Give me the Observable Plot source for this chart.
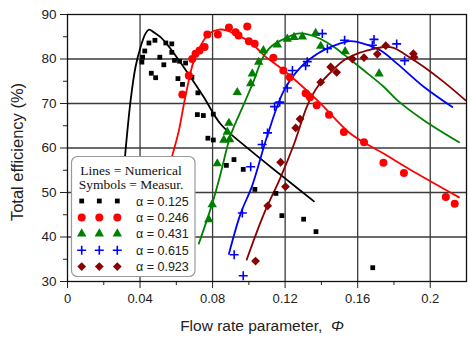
<!DOCTYPE html>
<html><head><meta charset="utf-8">
<script src="https://cdn.jsdelivr.net/npm/d3@7"></script>
<script src="https://cdn.jsdelivr.net/npm/@observablehq/plot@0.6"></script>
<style>
body{margin:0;background:#fff}
#chart{position:relative;width:470px;height:341px}
</style>
</head><body><div id="chart"></div>
<script>
// ---- data ----
const alphaLabels = ["α = 0.125","α = 0.246","α = 0.431","α = 0.615","α = 0.923"];
const seriesColors = ["#000000","#ff0000","#008000","#0000ff","#8b0000"];
const xTicks = [0,0.04,0.08,0.12,0.16,0.2];
const xMinor = [0.02,0.06,0.10,0.14,0.18];
const yTicks = [30,40,50,60,70,80,90];
const yMinor = [35,45,55,65,75,85];
const legendTitle = ["Lines = Numerical","Symbols = Measur."];

// numerical lines [phi, efficiency]
const line125 = [[0.0280,40],[0.0320,59.4],[0.0348,70.7],[0.0375,78.2],[0.0403,82.7],[0.0430,85.7],[0.0449,86.6],[0.0476,86.0],[0.0513,84.9],[0.0568,82.3],[0.0660,77.0],[0.0752,71.4],[0.0844,65.4],[0.1010,59.4],[0.1193,53.4],[0.1359,48.0]];
const line246 = [[0.0470,42],[0.0578,58.3],[0.0614,63.9],[0.0642,69.9],[0.0669,75.2],[0.0697,79.7],[0.0734,83.0],[0.0780,85.7],[0.0835,86.6],[0.0881,86.4],[0.0936,85.3],[0.0991,84.2],[0.1047,82.3],[0.1083,80.8],[0.1193,77.4],[0.1378,70.7],[0.1561,63.2],[0.1745,58.7],[0.1929,54.2],[0.2159,48.9]];
const line431 = [[0.0724,38.5],[0.0798,47.5],[0.0844,54.2],[0.0899,62.8],[0.0973,69.9],[0.1028,75.2],[0.1074,80.1],[0.1120,82.7],[0.1193,84.5],[0.1267,85.7],[0.1331,85.5],[0.1396,84.5],[0.1469,82.7],[0.1543,80.4],[0.1635,77.4],[0.1745,73.7],[0.1819,70.7],[0.1966,66.2],[0.2159,61.3]];
const line615 = [[0.0890,36.2],[0.0954,45.2],[0.1019,51.6],[0.1102,62.8],[0.1193,72.9],[0.1286,78.2],[0.1378,81.2],[0.1469,83.0],[0.1561,84.0],[0.1635,83.4],[0.1727,81.9],[0.1819,78.9],[0.1966,73.7],[0.2122,69.2]];
const line923 = [[0.0988,34.9],[0.1083,45.2],[0.1175,53.4],[0.1249,60.9],[0.1323,69.6],[0.1378,73.7],[0.1451,77.0],[0.1524,79.7],[0.1598,81.2],[0.1672,82.1],[0.1745,82.7],[0.1798,82.5],[0.1855,81.2],[0.1966,78.2],[0.2076,74.8],[0.2195,70.7]];

// measured symbols [phi, efficiency]
const meas125 = [[0.0410,79.3],[0.0414,80.4],[0.0426,81.8],[0.0449,83.6],[0.0482,84.2],[0.0509,80.4],[0.0531,78.7],[0.0542,83.6],[0.0575,83.4],[0.0575,81.5],[0.0590,79.7],[0.0618,79.5],[0.0651,79.1],[0.0462,76.8],[0.0486,75.8],[0.0609,75.6],[0.0634,74.3],[0.0666,76.1],[0.0686,75.9],[0.0719,72.4],[0.0716,67.5],[0.0749,67.3],[0.0804,67.6],[0.0774,62.2],[0.0804,61.8],[0.0876,56.1],[0.0918,57.4],[0.0969,55.2],[0.1033,50.7],[0.1149,49.8],[0.1182,44.8],[0.1302,44.0],[0.1370,41.2],[0.1683,33.1]];
const meas246 = [[0.0633,72.0],[0.0669,76.3],[0.0688,80.0],[0.0706,81.2],[0.0728,81.9],[0.0756,82.7],[0.0771,85.5],[0.0829,85.5],[0.0890,87.1],[0.0927,86.0],[0.0943,85.3],[0.0991,87.3],[0.1000,84.0],[0.1032,83.4],[0.1135,80.3],[0.1190,77.4],[0.1226,75.9],[0.1313,72.3],[0.1337,71.4],[0.1374,69.6],[0.1442,67.5],[0.1524,63.6],[0.1635,61.3],[0.1742,56.7],[0.1855,54.4],[0.2086,49.0],[0.2135,47.5]];
const meas431 = [[0.0779,43.9],[0.0798,47.3],[0.0826,56.5],[0.0862,61.8],[0.0894,61.9],[0.0881,63.6],[0.0890,65.6],[0.0936,72.5],[0.1010,74.5],[0.1019,76.7],[0.1054,79.3],[0.1080,81.9],[0.1157,83.2],[0.1212,84.5],[0.1249,84.9],[0.1295,85.0],[0.1368,85.8],[0.1396,82.9],[0.1531,81.7],[0.1718,76.7]];
const meas615 = [[0.0969,31.3],[0.0919,36.0],[0.0964,45.4],[0.1010,55.8],[0.1073,60.8],[0.1103,63.4],[0.1142,69.3],[0.1170,70.3],[0.1212,73.5],[0.1240,77.4],[0.1313,78.5],[0.1322,79.4],[0.1405,85.7],[0.1433,82.3],[0.1528,84.2],[0.1690,84.4],[0.1681,83.1],[0.1815,83.4],[0.1859,79.6]];
const meas923 = [[0.1037,34.6],[0.1104,47.0],[0.1175,56.8],[0.1202,51.3],[0.1258,64.5],[0.1282,66.5],[0.1396,74.8],[0.1451,78.2],[0.1484,77.0],[0.1571,80.0],[0.1635,80.3],[0.1708,81.1],[0.1755,83.0],[0.1907,81.2],[0.1911,80.4]];

const lines = [line125,line246,line431,line615,line923];
const meas = [meas125,meas246,meas431,meas615,meas923];

// symbol styling per series
const dotStyles = [
  {symbol:"square", r:2.7, fill:seriesColors[0]},
  {symbol:"circle", r:4, fill:seriesColors[1]},
  {symbol:"triangle", r:3.5, fill:seriesColors[2]},
  {symbol:"plus", r:3.0, fill:"none", stroke:seriesColors[3], strokeWidth:1.6},
  {symbol:"square", r:3.5, fill:seriesColors[4], rotate:45}
];

const fmt = d => String(+d.toFixed(2));

const marks = [
  Plot.gridX(xTicks.slice(1), {stroke:"#3a3a3a", strokeOpacity:1, strokeWidth:1.3}),
  Plot.gridY(yTicks.slice(1,-1), {stroke:"#3a3a3a", strokeOpacity:1, strokeWidth:1.3}),
  Plot.axisX(xMinor, {tickSize:4, tickFormat:()=>"", label:null, stroke:"#222"}),
  Plot.axisY(yMinor, {tickSize:4, tickFormat:()=>"", label:null, stroke:"#222"}),
  Plot.axisX(xTicks, {tickSize:7, tickPadding:5, tickFormat:fmt, label:null, fontSize:13, fill:"#222", stroke:"#222"}),
  Plot.axisY(yTicks, {tickSize:7, tickPadding:4, label:null, fontSize:13.5, fill:"#222", stroke:"#222"}),
];
lines.forEach((L,i) => marks.push(Plot.line(L, {x:d=>d[0], y:d=>d[1], stroke:seriesColors[i], strokeWidth:1.8, curve:"catmull-rom"})));
meas.forEach((M,i) => marks.push(Plot.dot(M, {x:d=>d[0], y:d=>d[1], ...dotStyles[i]})));
marks.push(Plot.frame({stroke:"#111", strokeWidth:1.3}));

const chart = Plot.plot({
  width:470, height:341,
  marginLeft:67, marginRight:4, marginTop:14, marginBottom:60,
  style:{fontFamily:"Arial, 'Liberation Sans', sans-serif", fontSize:"13px", background:"#fff", color:"#222"},
  x:{domain:[0,0.22]},
  y:{domain:[30,90]},
  marks
});
document.getElementById("chart").appendChild(chart);

// axis titles and legend
const svg = d3.select(chart);
const xt = svg.append("text")
  .attr("x", 262).attr("y", 331)
  .attr("text-anchor","middle")
  .attr("font-family","Arial, 'Liberation Sans', sans-serif")
  .attr("font-size", 15.5).attr("fill","#222");
xt.append("tspan").text("Flow rate parameter,  ");
xt.append("tspan").attr("font-style","italic").text("Φ");

svg.append("text")
  .attr("transform","translate(23,152) rotate(-90)")
  .attr("text-anchor","middle")
  .attr("font-family","Arial, 'Liberation Sans', sans-serif")
  .attr("font-size", 16.5).attr("fill","#222")
  .text("Total efficiency (%)");

const lg = svg.append("g");
lg.append("rect").attr("x",71.5).attr("y",156.5).attr("width",123.5).attr("height",120)
  .attr("rx",6).attr("fill","#fff").attr("stroke","#999").attr("stroke-width",1.2);
legendTitle.forEach((t,i) => lg.append("text")
  .attr("x",131).attr("y",175 + i*13.5).attr("text-anchor","middle")
  .attr("font-family","'Liberation Serif','Times New Roman',serif").attr("font-size",13.5)
  .attr("fill","#111").text(t));
const symTypes = [d3.symbolSquare, d3.symbolCircle, d3.symbolTriangle, d3.symbolPlus, d3.symbolSquare];
alphaLabels.forEach((lab,i) => {
  const cy = 201 + i*16.4;
  const st = dotStyles[i];
  [81.7, 99.3, 117.3].forEach(cx => {
    lg.append("path")
      .attr("d", d3.symbol(symTypes[i], Math.PI*st.r*st.r)())
      .attr("transform", `translate(${cx},${cy})` + (st.rotate ? ` rotate(${st.rotate})` : ""))
      .attr("fill", st.fill).attr("stroke", st.stroke || "none").attr("stroke-width", st.strokeWidth || 0);
  });
  lg.append("text").attr("x",136).attr("y",cy+4.5).attr("text-anchor","start")
    .attr("font-family","Arial, 'Liberation Sans', sans-serif").attr("font-size",12.5)
    .attr("fill","#222").text(lab);
});
</script>
</body></html>
